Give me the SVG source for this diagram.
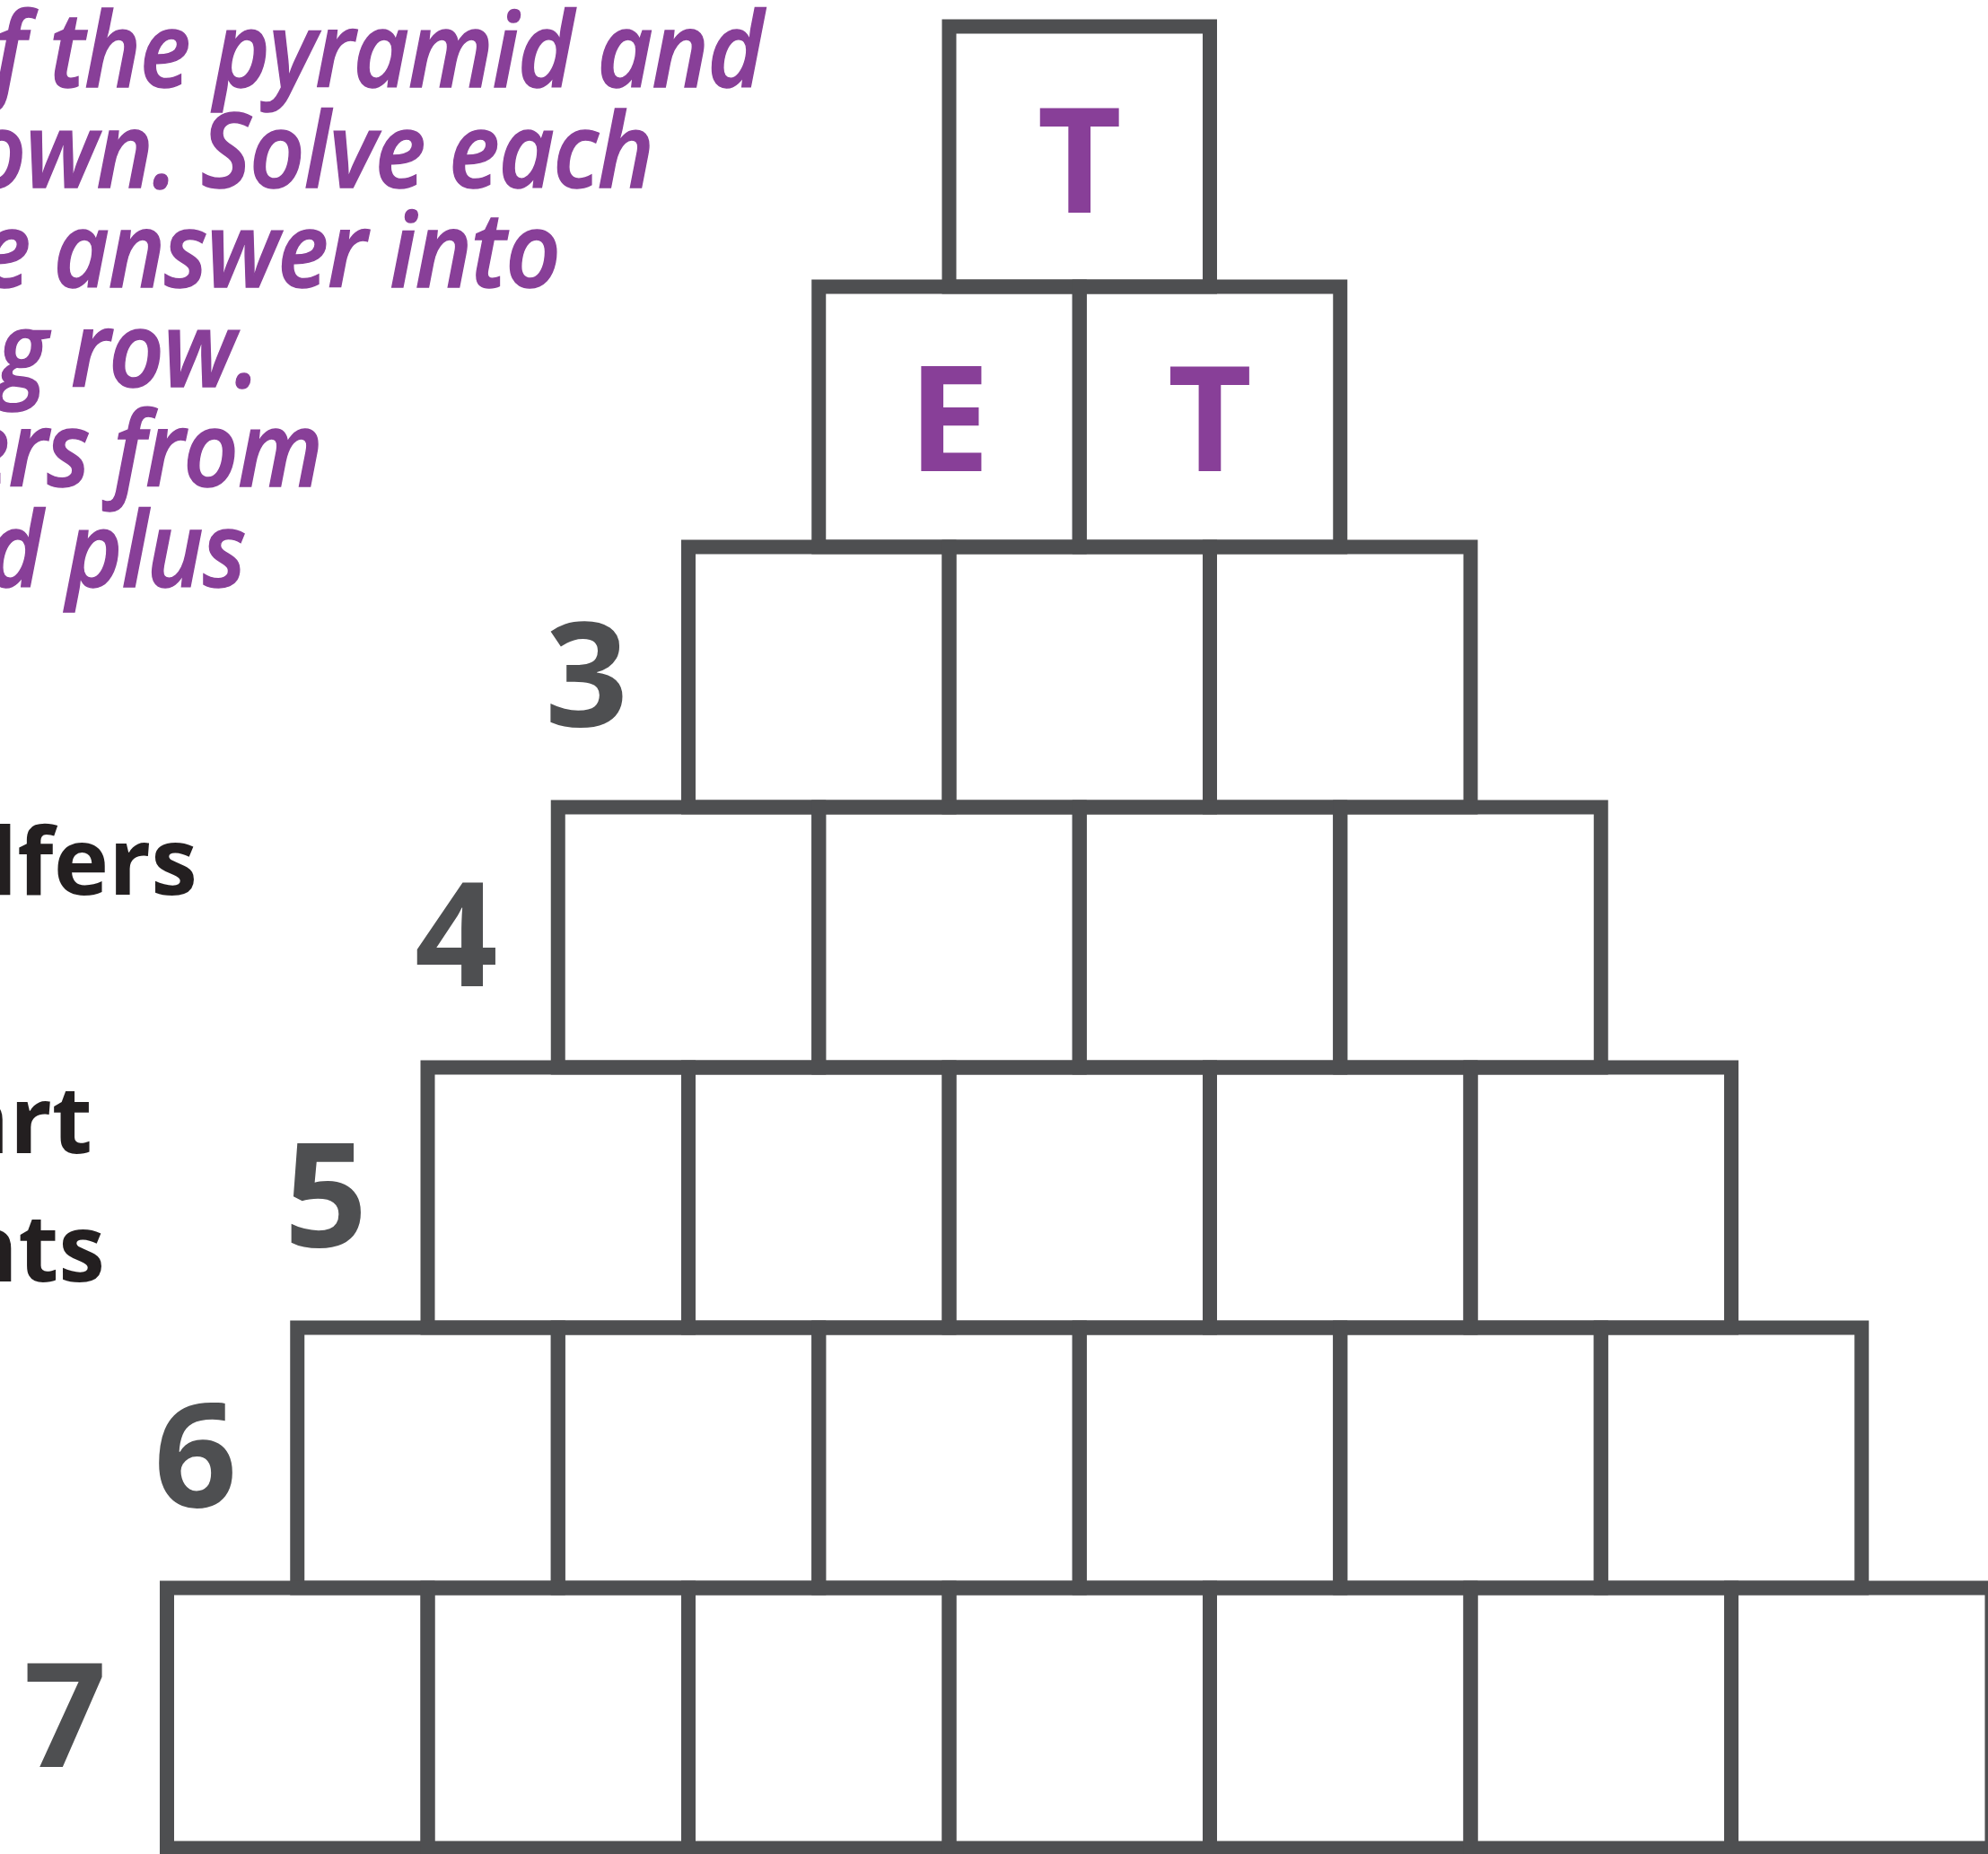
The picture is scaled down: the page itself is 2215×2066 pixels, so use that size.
<svg xmlns="http://www.w3.org/2000/svg" width="2215" height="2066" viewBox="0 0 2215 2066">
<style>
.cell{fill:none;stroke:#4e4f51;stroke-width:16;stroke-linejoin:miter}
.letter{font-family:"Open Sans","Liberation Sans",sans-serif;font-weight:700;font-size:163px;fill:#883f98;text-anchor:middle}
.num{font-family:"Open Sans","Liberation Sans",sans-serif;font-weight:700;font-size:162px;fill:#4e4f51;text-anchor:middle}
.intro{font-family:"Open Sans","Liberation Sans",sans-serif;font-weight:600;font-style:italic;font-size:116px;fill:#883f98;text-anchor:end;letter-spacing:-1px;stroke:#883f98;stroke-width:1.5px}
.side{font-family:"Open Sans","Liberation Sans",sans-serif;font-weight:700;font-size:104px;fill:#231f20;text-anchor:end}
</style>
<rect width="2215" height="2066" fill="#ffffff"/>
<g id="intro-text" transform="scale(0.92 1)">
<text class="intro" x="924" y="97">of the pyramid and</text>
<text class="intro" x="791" y="209">own. Solve each</text>
<text class="intro" x="678" y="320">e answer into</text>
<text class="intro" x="314" y="431">ng row.</text>
<text class="intro" x="390" y="542">ers from</text>
<text class="intro" x="297" y="654">d plus</text>
</g>
<g id="side-text">
<text class="side" x="220" y="997">olfers</text>
<text class="side" x="103" y="1285">art</text>
<text class="side" x="117" y="1428">nts</text>
</g>
<g id="row1">
<rect class="cell" x="1057.5" y="29.5" width="290.5" height="290"/>
<text class="letter" x="1202.75" y="237">T</text>
</g>
<g id="row2">
<rect class="cell" x="912.25" y="319.5" width="290.5" height="290"/>
<rect class="cell" x="1202.75" y="319.5" width="290.5" height="290"/>
<text class="letter" x="1057.5" y="524.5">E</text>
<text class="letter" x="1348" y="524.5">T</text>
</g>
<g id="row3">
<rect class="cell" x="767" y="609.5" width="290.5" height="290"/>
<rect class="cell" x="1057.5" y="609.5" width="290.5" height="290"/>
<rect class="cell" x="1348" y="609.5" width="290.5" height="290"/>
<text class="num" x="653.5" y="808.5">3</text>
</g>
<g id="row4">
<rect class="cell" x="621.75" y="899.5" width="290.5" height="290"/>
<rect class="cell" x="912.25" y="899.5" width="290.5" height="290"/>
<rect class="cell" x="1202.75" y="899.5" width="290.5" height="290"/>
<rect class="cell" x="1493.25" y="899.5" width="290.5" height="290"/>
<text class="num" x="508.25" y="1098.5">4</text>
</g>
<g id="row5">
<rect class="cell" x="476.5" y="1189.5" width="290.5" height="290"/>
<rect class="cell" x="767" y="1189.5" width="290.5" height="290"/>
<rect class="cell" x="1057.5" y="1189.5" width="290.5" height="290"/>
<rect class="cell" x="1348" y="1189.5" width="290.5" height="290"/>
<rect class="cell" x="1638.5" y="1189.5" width="290.5" height="290"/>
<text class="num" x="363" y="1388.5">5</text>
</g>
<g id="row6">
<rect class="cell" x="331.25" y="1479.5" width="290.5" height="290"/>
<rect class="cell" x="621.75" y="1479.5" width="290.5" height="290"/>
<rect class="cell" x="912.25" y="1479.5" width="290.5" height="290"/>
<rect class="cell" x="1202.75" y="1479.5" width="290.5" height="290"/>
<rect class="cell" x="1493.25" y="1479.5" width="290.5" height="290"/>
<rect class="cell" x="1783.75" y="1479.5" width="290.5" height="290"/>
<text class="num" x="217.75" y="1678.5">6</text>
</g>
<g id="row7">
<rect class="cell" x="186" y="1769.5" width="290.5" height="290"/>
<rect class="cell" x="476.5" y="1769.5" width="290.5" height="290"/>
<rect class="cell" x="767" y="1769.5" width="290.5" height="290"/>
<rect class="cell" x="1057.5" y="1769.5" width="290.5" height="290"/>
<rect class="cell" x="1348" y="1769.5" width="290.5" height="290"/>
<rect class="cell" x="1638.5" y="1769.5" width="290.5" height="290"/>
<rect class="cell" x="1929" y="1769.5" width="290.5" height="290"/>
<text class="num" x="72.5" y="1968.5">7</text>
</g>
<g id="connectors"></g>
</svg>
